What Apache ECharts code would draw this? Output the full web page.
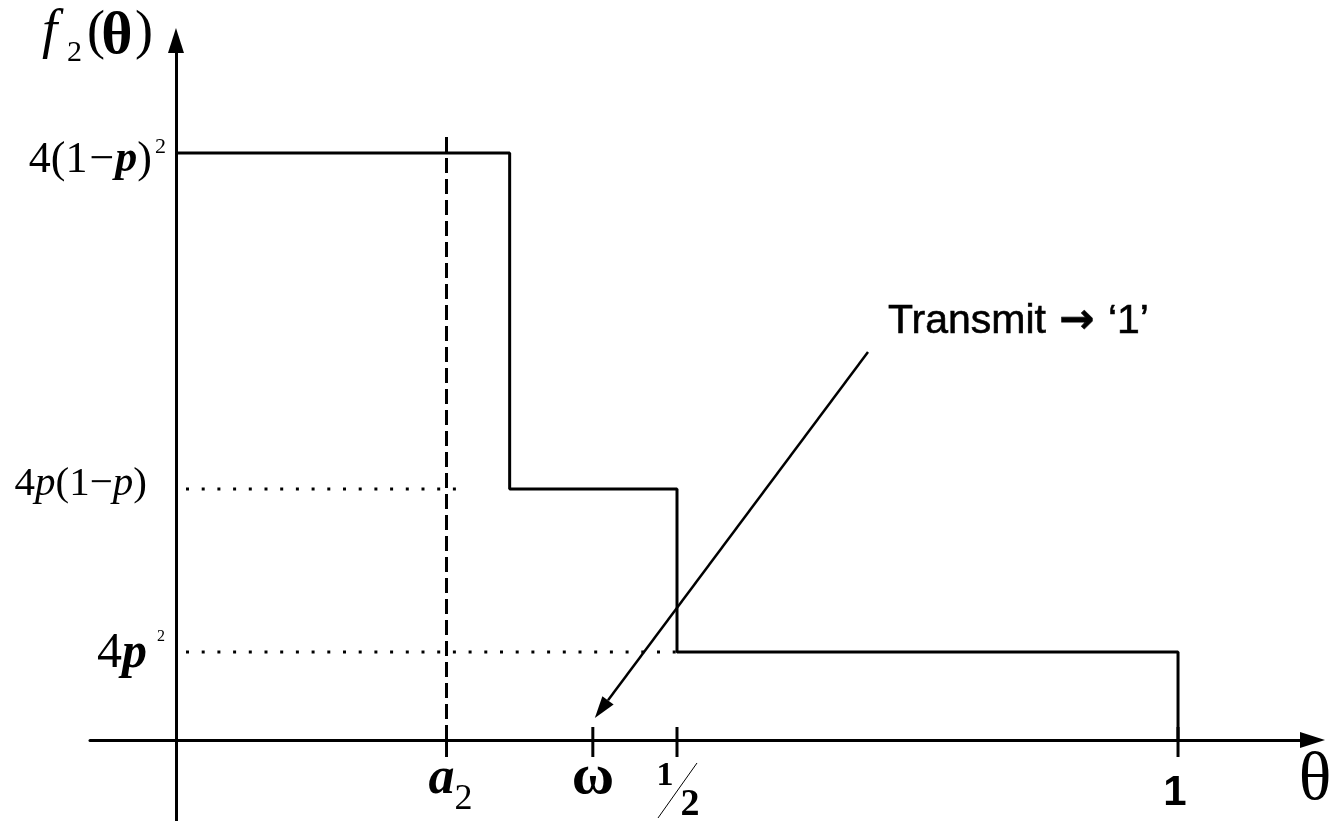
<!DOCTYPE html>
<html>
<head>
<meta charset="utf-8">
<script src="https://cdn.jsdelivr.net/npm/echarts@6/dist/echarts.min.js"></script>
<style>
  html, body { margin: 0; padding: 0; background: #fff; }
  #chart { width: 1335px; height: 821px; }
</style>
</head>
<body>
<div id="chart"></div>
<script>
// step function: breakpoints on theta and the level of each step
const stepEdges = [0, 0.333, 0.5, 1];
const stepLevels = [2.0, 0.855, 0.30];

// marked points on the theta axis
const tickValues = [0.27, 0.416, 0.5, 1];
const tickNames = ["a2", "omega", "half", "one"];

// dashed line at a2 (x, top)
const a2Line = [0.27, 2.061];
// dotted guides: start theta and end theta for the two lower levels
const dottedStart = 0.01;
const dottedEnds = [0.291, 0.5];

// annotation arrow, from -> to (theta, f)
const arrowFrom = [0.6906, 1.322];
const arrowTo = [0.418, 0.075];

const SERIF = "'Liberation Serif', 'DejaVu Serif', serif";
const SANS = "'Liberation Sans', Arial, sans-serif";

// build step polyline from edges/levels
const stepPoints = [];
stepLevels.forEach((lv, i) => {
    stepPoints.push([stepEdges[i], lv], [stepEdges[i + 1], lv]);
});
stepPoints.push([stepEdges[stepEdges.length - 1], 0]);

// label looks for the y levels
const levelLabels = [
    {
        text: "{n|4(1}{m|\u2212}{i|p}{n|)}{s|2}",
        rich: {
            n: { fontFamily: SERIF, fontSize: 44, fill: "#000" },
            m: { fontFamily: SERIF, fontSize: 44, fill: "#000", padding: [0, 1, 0, 2] },
            i: { fontFamily: SERIF, fontSize: 44, fontStyle: "italic", fontWeight: "bold", fill: "#000" },
            s: { fontFamily: SERIF, fontSize: 22, fill: "#000", padding: [0, 0, 26, 3] },
        },
        dx: -10, dy: 7,
    },
    {
        text: "{n|4}{i|p}{n|(1\u2212}{i|p}{n|)}",
        rich: {
            n: { fontFamily: SERIF, fontSize: 41, fill: "#000" },
            i: { fontFamily: SERIF, fontSize: 41, fontStyle: "italic", fill: "#000" },
        },
        dx: -29, dy: -5,
    },
    {
        text: "{n|4}{i|p}{s|2}",
        rich: {
            n: { fontFamily: SERIF, fontSize: 50, fill: "#000" },
            i: { fontFamily: SERIF, fontSize: 50, fontStyle: "italic", fontWeight: "bold", fill: "#000" },
            s: { fontFamily: SERIF, fontSize: 16, fill: "#000", padding: [0, 0, 34, 10] },
        },
        dx: -11, dy: 2,
    },
];

function txt(x, y, text, font, align) {
    return {
        type: "text", x: x, y: y,
        style: { text: text, font: font, fill: "#000", align: align || "center", verticalAlign: "middle" },
    };
}

function tickLabel(name, x, y) {
    if (name === "a2") {
        return [
            txt(x - 5, y + 40, "a", "italic bold 52px " + SERIF),
            txt(x + 8, y + 60, "2", "36px " + SERIF, "left"),
        ];
    }
    if (name === "omega") {
        return [txt(x, y + 38, "\u03c9", "bold 58px " + SERIF)];
    }
    if (name === "half") {
        return [
            txt(x - 12, y + 36, "1", "bold 34px " + SERIF),
            { type: "line", shape: { x1: x - 19, y1: y + 78, x2: x + 20, y2: y + 23 },
              style: { stroke: "#000", lineWidth: 1 } },
            txt(x + 13, y + 65, "2", "bold 38px " + SERIF),
        ];
    }
    return [txt(x - 3, y + 53, "1", "bold 42px " + SANS)];
}

const chart = echarts.init(document.getElementById("chart"), null, { renderer: "canvas" });

const option = {
    animation: false,
    backgroundColor: "#fff",
    grid: { left: 90, right: 22.5, top: 40.5, bottom: 0 },
    xAxis: {
        type: "value",
        min: -0.0858,
        max: 1.1342,
        axisLine: {
            onZero: true,
            symbol: ["none", "triangle"],
            symbolSize: [16, 25],
            lineStyle: { color: "#000", width: 3 },
        },
        axisTick: { show: false },
        axisLabel: { show: false },
        splitLine: { show: false },
    },
    yAxis: {
        type: "value",
        min: -0.276,
        max: 2.3833,
        axisLine: {
            onZero: true,
            symbol: ["none", "triangle"],
            symbolSize: [16, 25],
            lineStyle: { color: "#000", width: 3 },
        },
        axisTick: { show: false },
        axisLabel: { show: false },
        splitLine: { show: false },
    },
    graphic: [
        // f_2(theta) axis title
        txt(42, 33, "f", "italic 55px " + SERIF, "left"),
        txt(67, 53, "2", "30px " + SERIF, "left"),
        txt(87, 34, "(", "54px " + SERIF, "left"),
        txt(117, 37, "\u03b8", "bold 60px " + SERIF),
        txt(135, 34, ")", "54px " + SERIF, "left"),
        // theta axis title
        txt(1315, 781, "\u03b8", "68px " + SERIF),
    ],
    series: [
        {
            type: "line",
            data: stepPoints,
            symbol: "none",
            lineStyle: { color: "#000", width: 3 },
            z: 5,
        },
        {
            type: "line",
            data: [[a2Line[0], 0], [a2Line[0], a2Line[1]]],
            symbol: "none",
            lineStyle: { color: "#000", width: 3, type: [15, 6] },
        },
        ...dottedEnds.map((end, i) => ({
            type: "line",
            data: [[dottedStart, stepLevels[i + 1]], [end, stepLevels[i + 1]]],
            symbol: "none",
            lineStyle: { color: "#000", width: 3, type: [3, 12.7] },
        })),
        {
            // y level labels
            type: "custom",
            coordinateSystem: "cartesian2d",
            data: stepLevels.map((lv, i) => [0, lv, i]),
            renderItem: (params, api) => {
                const idx = api.value(2);
                const p = api.coord([0, api.value(1)]);
                const lab = levelLabels[idx];
                return {
                    type: "text",
                    x: p[0] + lab.dx,
                    y: p[1] + lab.dy,
                    style: { text: lab.text, rich: lab.rich, align: "right", verticalAlign: "middle" },
                };
            },
        },
        {
            // theta ticks + labels
            type: "custom",
            coordinateSystem: "cartesian2d",
            data: tickValues.map((v, i) => [v, 0, i]),
            renderItem: (params, api) => {
                const p = api.coord([api.value(0), 0]);
                const name = tickNames[api.value(2)];
                return {
                    type: "group",
                    children: [
                        { type: "line", shape: { x1: p[0], y1: p[1] - 13, x2: p[0], y2: p[1] + 17 },
                          style: { stroke: "#000", lineWidth: 3 } },
                    ].concat(tickLabel(name, p[0], p[1])),
                };
            },
        },
        {
            // annotation arrow
            type: "custom",
            coordinateSystem: "cartesian2d",
            data: [[arrowFrom[0], arrowFrom[1], arrowTo[0], arrowTo[1]]],
            renderItem: (params, api) => {
                const a = api.coord([api.value(0), api.value(1)]);
                const b = api.coord([api.value(2), api.value(3)]);
                const dx = b[0] - a[0], dy = b[1] - a[1];
                const len = Math.sqrt(dx * dx + dy * dy);
                const ux = dx / len, uy = dy / len;
                const hl = 22, hw = 7;
                const bx = b[0] - ux * hl, by = b[1] - uy * hl;
                return {
                    type: "group",
                    children: [
                        { type: "line", shape: { x1: a[0], y1: a[1], x2: bx, y2: by },
                          style: { stroke: "#000", lineWidth: 2.5 } },
                        { type: "polygon",
                          shape: { points: [[b[0], b[1]], [bx - uy * hw, by + ux * hw], [bx + uy * hw, by - ux * hw]] },
                          style: { fill: "#000" } },
                        { type: "text", x: a[0] + 20, y: a[1] - 30,
                          style: {
                              text: "{t|Transmit }{a|\u2192}{t| \u20181\u2019}",
                              align: "left", verticalAlign: "middle",
                              stroke: "#000", lineWidth: 0.6,
                              rich: {
                                  t: { fontFamily: SANS, fontSize: 41, fill: "#000" },
                                  a: { fontFamily: "'DejaVu Sans', sans-serif", fontSize: 42, fontWeight: "bold",
                                       fill: "#000", padding: [0, 2, 0, 2] },
                              },
                          } },
                    ],
                };
            },
        },
    ],
};

chart.setOption(option);
window.addEventListener("resize", () => chart.resize());
</script>
</body>
</html>
